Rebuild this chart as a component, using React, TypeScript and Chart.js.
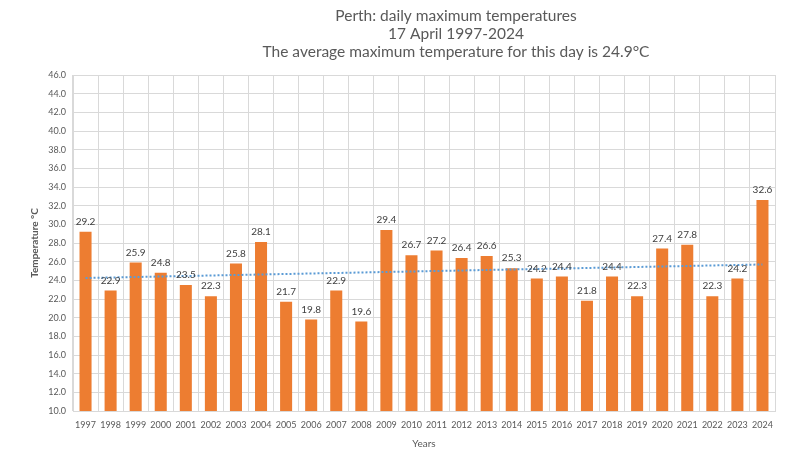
import React, { useEffect, useRef } from "react";
import { Chart, registerables } from "chart.js";
Chart.register(...registerables);

const years = ["1997","1998","1999","2000","2001","2002","2003","2004","2005","2006","2007","2008","2009","2010","2011","2012","2013","2014","2015","2016","2017","2018","2019","2020","2021","2022","2023","2024"];
const maxTemps = [29.2,22.9,25.9,24.8,23.5,22.3,25.8,28.1,21.7,19.8,22.9,19.6,29.4,26.7,27.2,26.4,26.6,25.3,24.2,24.4,21.8,24.4,22.3,27.4,27.8,22.3,24.2,32.6];
const trendStart = 24.25;
const trendEnd = 25.7;
const titleLines = ["Perth: daily maximum temperatures", "17 April 1997-2024", "The average maximum temperature for this day is 24.9°C"];

const FONT = "Lato, 'Open Sans', sans-serif";

export default function App() {
  const ref = useRef<HTMLCanvasElement>(null);
  useEffect(() => {
    const trend = years.map((_, i) => (i === 0 ? trendStart : i === years.length - 1 ? trendEnd : null));
    const labelPlugin = {
      id: "labels",
      afterDatasetsDraw(chart: any) {
        const ctx = chart.ctx;
        const meta = chart.getDatasetMeta(0);
        ctx.save();
        ctx.font = `10px ${FONT}`;
        ctx.fillStyle = "#404040";
        ctx.textAlign = "center";
        ctx.textBaseline = "middle";
        meta.data.forEach((bar: any, i: number) => {
          ctx.fillText(maxTemps[i].toFixed(1), bar.x, bar.y - 10);
        });
        ctx.restore();
      },
    };
    const titlePlugin = {
      id: "titles",
      afterDraw(chart: any) {
        const ctx = chart.ctx;
        ctx.save();
        ctx.font = `15.5px ${FONT}`;
        ctx.fillStyle = "#595959";
        ctx.textAlign = "center";
        ctx.textBaseline = "middle";
        const ys = [16, 34, 52];
        titleLines.forEach((t, i) => ctx.fillText(t, 456, ys[i]));
        ctx.restore();
      },
    };
    const chart = new Chart(ref.current!, {
      type: "bar",
      data: {
        labels: years,
        datasets: [
          {
            type: "bar",
            data: maxTemps,
            backgroundColor: "#ed7d31",
            categoryPercentage: 1,
            barPercentage: 0.48,
            order: 2,
          },
          {
            type: "line",
            data: trend as any,
            spanGaps: true,
            borderColor: "#5b9bd5",
            borderWidth: 2,
            borderDash: [2, 2],
            pointRadius: 0,
            order: 1,
          },
        ],
      },
      options: {
        animation: false,
        responsive: false,
        layout: { padding: { left: 0, right: 35, top: 75, bottom: 0 } },
        plugins: { legend: { display: false }, title: { display: false }, tooltip: { enabled: false } },
        scales: {
          x: {
            grid: { color: "#d9d9d9", offset: true, drawTicks: false },
            border: { color: "#d9d9d9" },
            ticks: { color: "#595959", font: { size: 9, family: FONT }, maxRotation: 0, autoSkip: false, padding: 9 },
            title: { display: true, text: "Years", color: "#595959", font: { size: 10, family: FONT }, padding: { top: 0, bottom: 9 } },
            afterFit(scale: any) { scale.height = 48; },
          },
          y: {
            min: 10,
            max: 46,
            grid: { color: "#d9d9d9", drawTicks: false },
            border: { color: "#d9d9d9" },
            ticks: { stepSize: 2, color: "#595959", font: { size: 9, family: FONT }, padding: 7, callback: (v: any) => Number(v).toFixed(1) },
            title: { display: true, text: "Temperature °C", color: "#595959", font: { size: 10, family: FONT, weight: "bold" }, padding: { top: 29, bottom: 0 } },
            afterFit(scale: any) { scale.width = 73; },
          },
        },
      },
      plugins: [labelPlugin, titlePlugin],
    });
    return () => chart.destroy();
  }, []);
  return (
    <div style={{ width: 810, height: 459, background: "#fff" }}>
      <style>{"body{margin:0}"}</style>
      <canvas ref={ref} width={810} height={459} />
    </div>
  );
}
